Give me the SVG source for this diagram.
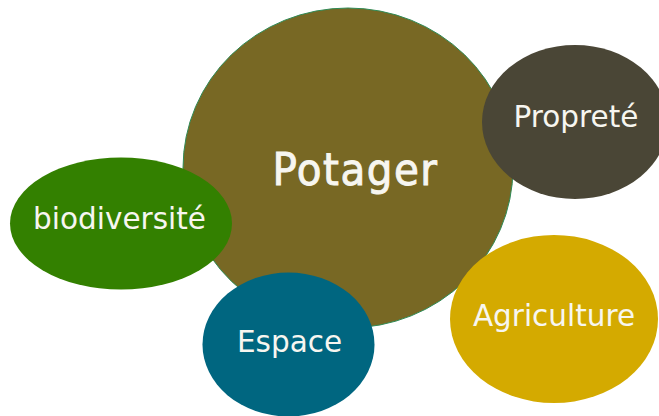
<svg xmlns="http://www.w3.org/2000/svg" width="659" height="416" viewBox="0 0 659 416">
<style>
.lbl{font-family:"DejaVu Sans","Liberation Sans",sans-serif;font-size:29.5px;fill:#f7f6f0;text-anchor:middle}
.main{font-family:"DejaVu Sans Condensed","DejaVu Sans",sans-serif;font-size:45px;letter-spacing:1.5px;fill:#f7f6f0;stroke:#f7f6f0;stroke-width:0.9;text-anchor:middle}
</style>
<rect width="659" height="416" fill="#ffffff"/>
<g id="connectors"></g>
<g id="potager">
<ellipse cx="348" cy="168" rx="165" ry="160" fill="#786824" stroke="#2f8a55" stroke-width="1"/>
<text class="main" x="355.5" y="185">Potager</text>
</g>
<g id="proprete">
<ellipse cx="575" cy="122" rx="93" ry="77" fill="#4a4636"/>
<text class="lbl" x="576" y="127">Propreté</text>
</g>
<g id="biodiversite">
<ellipse cx="121" cy="223.5" rx="111" ry="66" fill="#338000"/>
<text class="lbl" x="119.5" y="229">biodiversité</text>
</g>
<g id="espace">
<ellipse cx="288.5" cy="344.5" rx="86" ry="72" fill="#006680"/>
<text class="lbl" x="289.5" y="352">Espace</text>
</g>
<g id="agriculture">
<ellipse cx="554" cy="319" rx="104" ry="84" fill="#d4aa00"/>
<text class="lbl" x="554" y="326">Agriculture</text>
</g>
</svg>
